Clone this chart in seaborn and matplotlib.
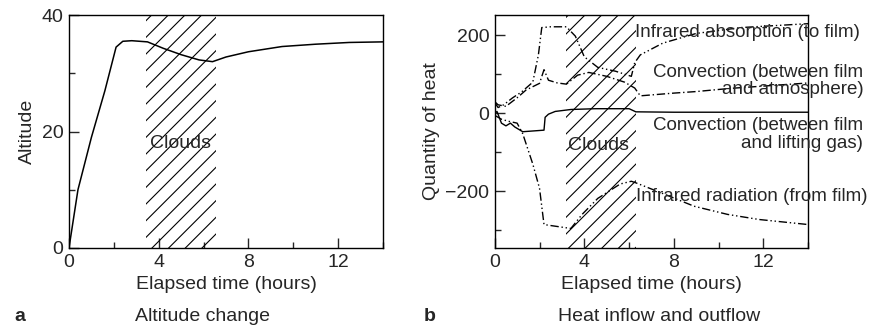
import pandas as pd
import numpy as np
import seaborn as sns
import matplotlib.pyplot as plt
from matplotlib.ticker import MultipleLocator

# panel a: altitude change
alt_t = [0, 0.4, 1.0, 1.6, 2.1, 2.4, 2.8, 3.5, 4.2, 5.0, 5.8, 6.4, 7.0, 8.0, 9.5, 11, 12.5, 14]
alt_h = [0, 10, 19, 27, 34.5, 35.5, 35.6, 35.4, 34.3, 33.2, 32.3, 32.0, 32.8, 33.7, 34.6, 35.0, 35.3, 35.4]

# panel b: heat inflow / outflow
abs_t = [0, 0.15, 0.4, 0.8, 1.2, 1.7, 1.95, 2.1, 2.5, 3.2, 3.6, 4.0, 4.6, 5.4, 6.1, 6.25, 6.5, 7.5, 9, 11, 14]
abs_q = [28, 15, 22, 40, 55, 80, 150, 220, 222, 222, 198, 145, 118, 108, 95, 130, 150, 180, 205, 220, 230]

atm_t = [0, 0.15, 0.5, 1.0, 1.4, 2.0, 2.2, 2.4, 2.8, 3.2, 3.7, 4.2, 5.0, 5.8, 6.25, 6.5, 8, 9, 10.5, 12, 14]
atm_q = [30, 22, 18, 40, 60, 77, 112, 85, 78, 75, 98, 105, 95, 80, 65, 45, 52, 56, 64, 70, 78]

gas_t = [0, 0.1, 0.3, 0.5, 0.7, 0.9, 1.25, 2.2, 2.25, 2.4, 2.7, 3.4, 4.5, 6.0, 6.3, 8, 14]
gas_q = [0, 5, -25, -32, -25, -35, -47, -43, -10, -2, 5, 10, 12, 12, 4, 3, 3]

rad_t = [0, 0.3, 0.6, 1.0, 1.25, 1.7, 2.0, 2.2, 2.8, 3.4, 3.9, 4.6, 5.6, 6.1, 6.3, 7.4, 8.9, 10.4, 11.8, 14]
rad_q = [-5, -15, -20, -25, -52, -130, -192, -285, -290, -295, -259, -218, -181, -174, -178, -203, -238, -259, -272, -285]

clouds_a = (3.45, 6.55)
clouds_b = (3.2, 6.3)

sns.set_style("ticks")
plt.rcParams['font.family'] = ['Liberation Sans', 'DejaVu Sans']
plt.rcParams['font.size'] = 14
plt.rcParams['hatch.linewidth'] = 0.8

fig = plt.figure(figsize=(8.71, 3.28), dpi=100)
ax1 = fig.add_axes([0.0792, 0.244, 0.3605, 0.71])
ax2 = fig.add_axes([0.568, 0.244, 0.36, 0.71])

df_a = pd.DataFrame({"t": alt_t, "h": alt_h})
sns.lineplot(data=df_a, x="t", y="h", ax=ax1, color="black", lw=1.1)
ax1.axvspan(*clouds_a, facecolor="none", edgecolor="black", hatch="//", lw=0)
ax1.text(3.6, 18, "Clouds", fontsize=14, va="center")
ax1.set_xlim(0, 14)
ax1.set_ylim(0, 40)
ax1.set_xticks([0, 4, 8, 12])
ax1.set_yticks([0, 20, 40])
ax1.xaxis.set_minor_locator(MultipleLocator(2))
ax1.yaxis.set_minor_locator(MultipleLocator(10))
ax1.set_xlabel("Elapsed time (hours)", fontsize=14)
ax1.set_ylabel("Altitude", fontsize=14)

series = [
    (abs_t, abs_q, "abs", (6, 2, 1, 2, 1, 2)),
    (atm_t, atm_q, "atm", (6, 2, 1, 2)),
    (gas_t, gas_q, "gas", ""),
    (rad_t, rad_q, "rad", (6, 2, 1, 2, 1, 2)),
]
df_b = pd.concat([pd.DataFrame({"t": t, "q": q, "s": s}) for t, q, s, _ in series])
sns.lineplot(data=df_b, x="t", y="q", hue="s", style="s",
             palette=["black"] * 4, dashes=[d for *_, d in series],
             ax=ax2, lw=1.0, legend=False)
ax2.axvspan(*clouds_b, facecolor="none", edgecolor="black", hatch="//", lw=0)
ax2.text(3.27, -83, "Clouds", fontsize=14, va="center")
ann = dict(fontsize=13.5, va="center", clip_on=False)
ax2.text(6.25, 207, "Infrared absorption (to film)", **ann)
ax2.text(16.45, 106, "Convection (between film", ha="right", **ann)
ax2.text(16.45, 60, "and atmosphere)", ha="right", **ann)
ax2.text(16.45, -31, "Convection (between film", ha="right", **ann)
ax2.text(16.45, -78, "and lifting gas)", ha="right", **ann)
ax2.text(6.3, -212, "Infrared radiation (from film)", **ann)
ax2.set_xlim(0, 14)
ax2.set_ylim(-345, 252)
ax2.set_xticks([0, 4, 8, 12])
ax2.set_yticks([-200, 0, 200])
ax2.set_yticklabels(["\u2212200", "0", "200"])
ax2.xaxis.set_minor_locator(MultipleLocator(2))
ax2.yaxis.set_minor_locator(MultipleLocator(100))
ax2.set_xlabel("Elapsed time (hours)", fontsize=14)
ax2.set_ylabel("Quantity of heat", fontsize=14)

for ax in (ax1, ax2):
    ax.tick_params(which="both", direction="in", top=False, right=False, labelsize=14, width=1)
    ax.tick_params(which="major", length=7, pad=4)
    ax.tick_params(which="minor", length=4)
    for sp in ax.spines.values():
        sp.set_linewidth(1.0)
        sp.set_color("black")

fig.text(0.017, 0.035, "a", fontsize=14, fontweight="bold", va="center")
fig.text(0.233, 0.035, "Altitude change", fontsize=14, ha="center", va="center")
fig.text(0.486, 0.035, "b", fontsize=14, fontweight="bold", va="center")
fig.text(0.757, 0.035, "Heat inflow and outflow", fontsize=14, ha="center", va="center")

fig.savefig("out.png", dpi=100)
